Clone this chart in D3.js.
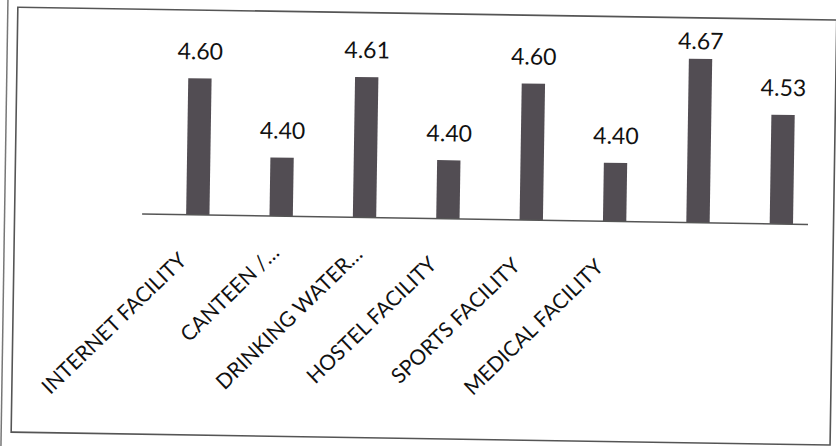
<!DOCTYPE html>
<html>
<head>
<meta charset="utf-8">
<script src="https://cdn.jsdelivr.net/npm/d3@7"></script>
<style>
  html, body { margin: 0; padding: 0; background: #fff; }
  svg { display: block; }
</style>
</head>
<body>
<svg id="chart" width="836" height="446"></svg>
<script>
// chart data
const categories = ["INTERNET FACILITY", "CANTEEN /…", "DRINKING WATER…", "HOSTEL FACILITY",
  "SPORTS FACILITY", "MEDICAL FACILITY", "", ""];
const values = [4.60, 4.40, 4.61, 4.40, 4.60, 4.40, 4.67, 4.53];
const yMin = 4.25;
const yMax = 4.70;

const svg = d3.select("#chart"),
  width = +svg.attr("width"),
  height = +svg.attr("height");

svg.append("rect").attr("width", width).attr("height", height).attr("fill", "#fff");

// the scan is slightly tilted, so draw everything in a rotated group
const g = svg.append("g").attr("transform", `rotate(0.9, ${width / 2}, ${height / 2})`);

// page line left of the frame
g.append("line")
  .attr("x1", 4.5).attr("x2", 4.5)
  .attr("y1", -30).attr("y2", 480)
  .attr("stroke", "#777").attr("stroke-width", 1.5);

// chart frame
g.append("rect")
  .attr("x", 14.5).attr("y", 13.5)
  .attr("width", 819).attr("height", 425)
  .attr("fill", "none")
  .attr("stroke", "#555")
  .attr("stroke-width", 1.6);

const baseY = 218.3;
const x = d3.scaleBand()
  .domain(d3.range(categories.length))
  .range([156, 823])
  .paddingInner(0.72)
  .paddingOuter(0.36);

const y = d3.scaleLinear()
  .domain([yMin, yMax])
  .range([baseY, baseY - 175.5]);

// bars
g.append("g")
  .selectAll("rect")
  .data(values)
  .join("rect")
  .attr("x", (d, i) => x(i))
  .attr("y", (d) => y(d))
  .attr("width", x.bandwidth())
  .attr("height", (d) => y(yMin) - y(d))
  .attr("fill", "#524d53");

// axis line
g.append("line")
  .attr("x1", 142).attr("x2", 808)
  .attr("y1", baseY).attr("y2", baseY)
  .attr("stroke", "#555")
  .attr("stroke-width", 1.5);

// value labels, kept inside the plot area
g.append("g")
  .selectAll("text")
  .data(values)
  .join("text")
  .attr("x", (d, i) => x(i) + x.bandwidth() / 2)
  .attr("y", (d) => Math.max(y(d) - 19, y(yMax) + 2))
  .attr("text-anchor", "middle")
  .style("font-family", "Lato, sans-serif")
  .style("font-size", "23px")
  .style("fill", "#111")
  .text((d) => d.toFixed(2));

// category labels at -45 degrees
g.append("g")
  .selectAll("text")
  .data(categories)
  .join("text")
  .attr("transform", (d, i) => `translate(${x(i) + x.bandwidth() / 2},${baseY + 38}) rotate(-45)`)
  .attr("dx", (d) => (d.endsWith("…") ? 0 : -13))
  .attr("text-anchor", "end")
  .style("font-family", "Lato, sans-serif")
  .style("font-size", "21px")
  .style("fill", "#111")
  .text((d) => d);
</script>
</body>
</html>
